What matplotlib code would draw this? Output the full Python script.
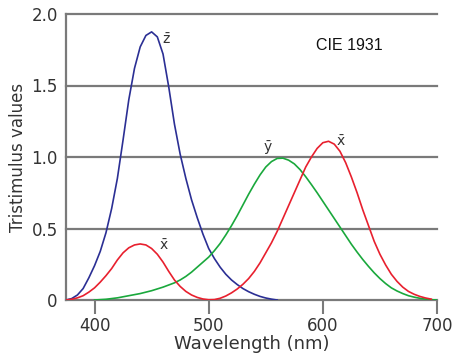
import matplotlib
matplotlib.use("Agg")
import matplotlib.pyplot as plt

# z-bar (blue)
z_wl = [375, 380, 385, 390, 395, 400, 405, 410, 415, 420, 425, 430, 435, 440, 445, 450, 455, 460, 465, 470, 475, 480, 485, 490, 495, 500, 505, 510, 515, 520, 525, 530, 535, 540, 545, 550, 555, 560]
z_val = [0.0, 0.01, 0.035, 0.08, 0.155, 0.24, 0.34, 0.47, 0.64, 0.85, 1.12, 1.40, 1.62, 1.77, 1.85, 1.875, 1.84, 1.72, 1.49, 1.23, 1.02, 0.85, 0.70, 0.575, 0.46, 0.36, 0.29, 0.23, 0.18, 0.14, 0.108, 0.08, 0.058, 0.04, 0.025, 0.014, 0.006, 0.0]

# x-bar (red)
x_wl = [375, 380, 385, 390, 395, 400, 405, 410, 415, 420, 425, 430, 435, 440, 445, 450, 455, 460, 465, 470, 475, 480, 485, 490, 495, 500, 505, 510, 515, 520, 525, 530, 535, 540, 545, 550, 555, 560, 565, 570, 575, 580, 585, 590, 595, 600, 605, 610, 615, 620, 625, 630, 635, 640, 645, 650, 655, 660, 665, 670, 675, 680, 685, 690, 695]
x_val = [0.0, 0.005, 0.015, 0.03, 0.055, 0.085, 0.125, 0.17, 0.22, 0.28, 0.33, 0.365, 0.385, 0.392, 0.385, 0.36, 0.32, 0.265, 0.20, 0.14, 0.095, 0.06, 0.035, 0.018, 0.007, 0.002, 0.003, 0.012, 0.028, 0.05, 0.077, 0.11, 0.15, 0.20, 0.26, 0.33, 0.40, 0.48, 0.57, 0.66, 0.75, 0.84, 0.93, 1.00, 1.06, 1.10, 1.11, 1.09, 1.04, 0.96, 0.86, 0.75, 0.63, 0.52, 0.41, 0.32, 0.245, 0.18, 0.13, 0.09, 0.06, 0.04, 0.025, 0.014, 0.006]

# y-bar (green)
y_wl = [400, 410, 420, 430, 440, 450, 460, 465, 470, 475, 480, 485, 490, 495, 500, 505, 510, 515, 520, 525, 530, 535, 540, 545, 550, 555, 560, 565, 570, 575, 580, 585, 590, 595, 600, 605, 610, 615, 620, 625, 630, 635, 640, 645, 650, 655, 660, 665, 670, 675, 680, 685, 690, 695, 700]
y_val = [0.0, 0.005, 0.015, 0.03, 0.045, 0.065, 0.09, 0.105, 0.12, 0.14, 0.165, 0.195, 0.23, 0.265, 0.30, 0.345, 0.395, 0.455, 0.52, 0.59, 0.665, 0.74, 0.81, 0.875, 0.93, 0.968, 0.99, 0.992, 0.978, 0.952, 0.912, 0.862, 0.807, 0.75, 0.69, 0.63, 0.57, 0.51, 0.45, 0.39, 0.335, 0.283, 0.235, 0.19, 0.15, 0.115, 0.085, 0.063, 0.045, 0.03, 0.02, 0.012, 0.006, 0.002, 0.0]

x_ticks = [400, 500, 600, 700]
y_ticks = [0, 0.5, 1.0, 1.5, 2.0]
y_ticklabels = ["0", "0.5", "1.0", "1.5", "2.0"]

plt.rcParams['mathtext.fontset'] = 'dejavusans'
fig = plt.figure(figsize=(4.53, 3.63), dpi=100)
ax = fig.add_axes([66/453, 1-300/363, (437-66)/453, (300-14)/363])

grid_c = '#7a7a7a'
for yv in y_ticks[1:]:
    ax.axhline(yv, color=grid_c, lw=1.6, clip_on=False, zorder=1)

kw = dict(lw=1.2, zorder=3, solid_joinstyle='round')
ax.plot(z_wl, z_val, color='#2b2f94', **kw)
ax.plot(y_wl, y_val, color='#1aa83c', **kw)
ax.plot(x_wl, x_val, color='#e8202e', **kw)

ax.set_xlim(375, 700)
ax.set_ylim(0, 2.0)
for s in ['top', 'right']:
    ax.spines[s].set_visible(False)
for s in ['left', 'bottom']:
    ax.spines[s].set_color(grid_c)
    ax.spines[s].set_linewidth(1.6)

ax.set_xticks(x_ticks)
ax.set_yticks(y_ticks)
ax.set_yticklabels(y_ticklabels)
ax.tick_params(axis='x', length=10, width=1.5, color=grid_c, labelsize=12, labelcolor='#333333', pad=2)
ax.tick_params(axis='y', length=0, labelsize=12, labelcolor='#333333', pad=6)

ax.set_xlabel('Wavelength (nm)', fontsize=13, color='#333333', labelpad=0)
ax.set_ylabel('Tristimulus values', fontsize=12, color='#333333', labelpad=3)

fig.text(349/453, 1-45.5/363, 'CIE 1931', family='Liberation Sans', fontsize=11.5, color='#111111', ha='center', va='center')

lab_c = '#333333'
ax.text(463, 1.82, r'$\bar{\mathrm{z}}$', fontsize=10, color=lab_c, ha='center', va='center')
ax.text(461, 0.38, r'$\bar{\mathrm{x}}$', fontsize=10, color=lab_c, ha='center', va='center')
ax.text(552, 1.06, r'$\bar{\mathrm{y}}$', fontsize=10, color=lab_c, ha='center', va='center')
ax.text(616, 1.11, r'$\bar{\mathrm{x}}$', fontsize=10, color=lab_c, ha='center', va='center')

fig.savefig('out.png', dpi=100)
